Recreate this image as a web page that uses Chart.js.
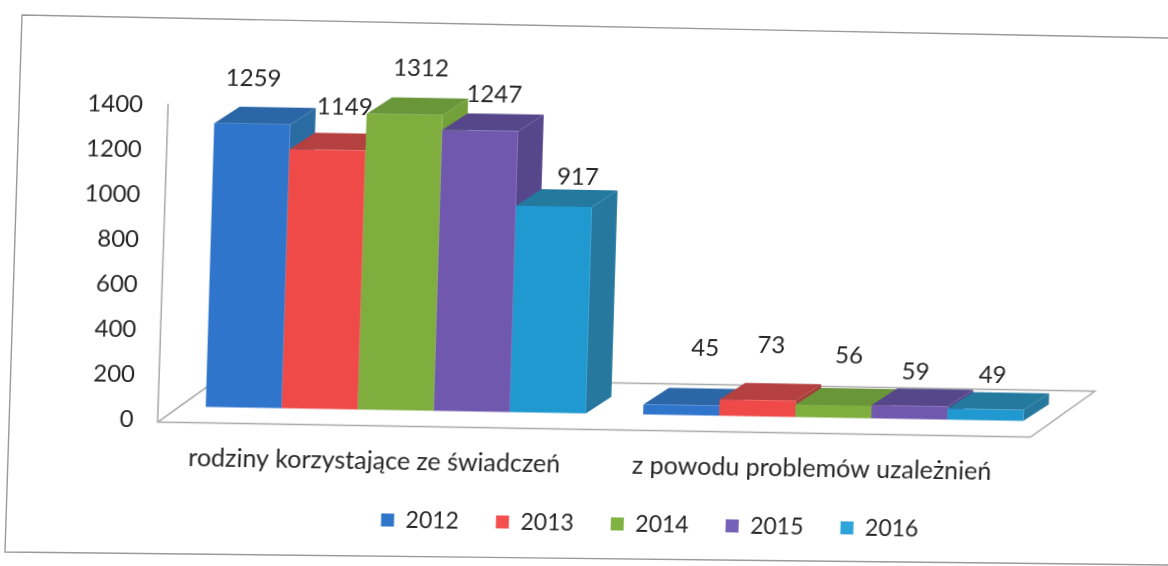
<!DOCTYPE html>
<html lang="pl"><head><meta charset="utf-8">
<script src="https://cdn.jsdelivr.net/npm/chart.js@4"></script>
<style>
html,body{margin:0;padding:0;background:#fff;overflow:hidden;width:1168px;height:566px}
#frame{position:absolute;left:0;top:0}
#wrap{position:absolute;left:0;top:0;width:1168px;height:566px;transform-origin:584px 283px;transform:matrix(1,0.0172,-0.03,1,0,0);filter:blur(0.35px)}
</style></head><body>
<svg id="frame" width="1168" height="566"><polyline points="1168,38 22,15 5,552 1168,565" fill="none" stroke="#9a9a9a" stroke-width="1.4"/></svg>
<div id="wrap"><canvas id="c" width="1168" height="566"></canvas></div>
<script>
const categories = ['rodziny korzystające ze świadczeń', 'z powodu problemów uzależnień'];
const years = ['2012', '2013', '2014', '2015', '2016'];
const v2012 = [1259, 45];
const v2013 = [1149, 73];
const v2014 = [1312, 56];
const v2015 = [1247, 59];
const v2016 = [917, 49];
const yTicks = [0, 200, 400, 600, 800, 1000, 1200, 1400];
const seriesValues = [v2012, v2013, v2014, v2015, v2016];

const frontColors = ['#2F75CB', '#F04A48', '#7FAE3F', '#7058AE', '#2098D0'];
const topColors   = ['#2B66A6', '#B4403F', '#6A963A', '#56468A', '#24799F'];
const sideColors  = ['#2B6CA3', '#A83A3A', '#74A03A', '#56468A', '#26789E'];
const legendColors= ['#2F75C9', '#F4504E', '#7FB240', '#7660B8', '#2FA4DA'];
// hand placement of the value labels, relative to each bar's top
const labelNudge = [
  [[0,-46],[22,-57]],
  [[16,-43],[12,-55]],
  [[15,-47],[14,-50]],
  [[13,-36],[5,-34]],
  [[23,-30],[6,-34]]
];
const DEPTH_X = 25, DEPTH_Y = 17;
const FONT = 'Lato, Carlito, sans-serif';
const INK = '#262626';

const poly = (ctx, pts, fill) => {
  ctx.beginPath();
  pts.forEach((p, i) => i ? ctx.lineTo(p[0], p[1]) : ctx.moveTo(p[0], p[1]));
  ctx.closePath();
  ctx.fillStyle = fill;
  ctx.fill();
};

const scene3d = {
  id: 'scene3d',
  afterLayout(chart) {
    const l = chart.legend;
    l.left += 129; l.right += 129;
    const h = l.bottom - l.top;
    l.top = 475; l.bottom = l.top + h;
  },
  beforeDatasetsDraw(chart) {
    const {ctx, scales: {x, y}, chartArea: a} = chart;
    const y0 = y.getPixelForValue(0), yT = y.getPixelForValue(1400);
    const fx = a.left - 19, fy = y0 + 16, rx = a.right - 21;
    ctx.save();
    ctx.strokeStyle = '#a8a8a8';
    ctx.lineWidth = 1.5;
    ctx.beginPath();
    ctx.moveTo(fx + 1, yT + 13);
    ctx.lineTo(fx, fy);
    ctx.lineTo(rx, fy);
    ctx.lineTo(rx + 63, fy - 47);
    ctx.lineTo(fx + 63, fy - 47);
    ctx.lineTo(fx, fy);
    ctx.stroke();
    ctx.restore();
  },
  beforeDatasetDraw() { return false; },
  afterDatasetsDraw(chart) {
    const {ctx} = chart;
    ctx.save();
    const nCat = categories.length;
    for (let c = 0; c < nCat; c++) {
      seriesValues.forEach((_, d) => {
        const el = chart.getDatasetMeta(d).data[c];
        const hw = el.width / 2, L = el.x - hw, R = el.x + hw, T = el.y, B = el.base;
        poly(ctx, [[R, T], [R + DEPTH_X, T - DEPTH_Y], [R + DEPTH_X, B - DEPTH_Y], [R, B]], sideColors[d]);
        poly(ctx, [[L, T], [L + DEPTH_X, T - DEPTH_Y], [R + DEPTH_X, T - DEPTH_Y], [R, T]], topColors[d]);
        el.draw(ctx);
      });
    }
    ctx.fillStyle = INK;
    ctx.font = '24px ' + FONT;
    ctx.textAlign = 'center';
    ctx.textBaseline = 'middle';
    seriesValues.forEach((vals, d) => vals.forEach((v, c) => {
      const el = chart.getDatasetMeta(d).data[c];
      const n = labelNudge[d][c];
      ctx.fillText(String(v), el.x + n[0], el.y + n[1]);
    }));
    ctx.restore();
  }
};

new Chart(document.getElementById('c'), {
  type: 'bar',
  data: {
    labels: categories,
    datasets: years.map((yr, i) => ({
      label: yr,
      data: seriesValues[i],
      backgroundColor: frontColors[i],
      borderWidth: 0,
      categoryPercentage: 0.869,
      barPercentage: 1
    }))
  },
  options: {
    responsive: false,
    animation: false,
    layout: {padding: {top: 98, right: 112, left: 0, bottom: 0}},
    plugins: {
      tooltip: {enabled: false},
      legend: {
        position: 'bottom',
        labels: {
          font: {family: FONT, size: 23},
          color: INK,
          boxWidth: 13,
          boxHeight: 13,
          padding: 37,
          generateLabels: () => years.map((yr, i) => ({
            text: yr, fillStyle: legendColors[i], strokeStyle: legendColors[i], lineWidth: 0, datasetIndex: i, fontColor: INK
          }))
        }
      }
    },
    scales: {
      x: {
        grid: {display: false, drawTicks: false},
        border: {display: false},
        afterFit: s => { s.height = 82.4; },
        ticks: {font: {family: FONT, size: 25}, color: INK, padding: 36, labelOffset: -20, maxRotation: 0, autoSkip: false}
      },
      y: {
        min: 0, max: 1400,
        grid: {display: false, drawTicks: false},
        border: {display: false},
        afterFit: s => { s.width = 181; },
        afterBuildTicks: s => { s.ticks = yTicks.map(v => ({value: v})); },
        ticks: {font: {family: FONT, size: 24}, color: INK, padding: 43, labelOffset: 14, callback: v => String(v)}
      }
    }
  },
  plugins: [scene3d]
});
</script>
</body></html>
